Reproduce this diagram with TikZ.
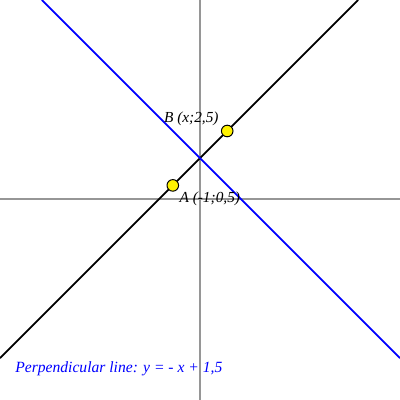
\documentclass[tikz,border=0pt]{standalone}
\usepackage{fontspec}
\setmainfont{Liberation Serif}
\begin{document}
\begin{tikzpicture}[x=0.68cm,y=0.68cm,
  axis/.style={draw={rgb,255:red,150;green,150;blue,150},line width=0.75pt},
  blackline/.style={draw=black,line width=1.3pt},
  blueline/.style={draw={rgb,255:red,0;green,0;blue,255},line width=1.3pt},
  pt/.style={circle,draw=black,line width=0.7pt,fill=yellow,minimum size=0.29cm,inner sep=0pt},
  lbl/.style={font=\itshape\fontsize{10.9}{12}\selectfont,text=black,inner sep=0pt},
  bluelbl/.style={font=\itshape\fontsize{11.1}{13}\selectfont,text={rgb,255:red,0;green,0;blue,255},inner sep=0pt}]
\useasboundingbox[fill=white] (-7.353,-7.39) rectangle (7.353,7.316);
% axes
\coordinate (xl) at (-7.353,0);
\coordinate (xr) at (7.353,0);
\coordinate (yb) at (0,-7.39);
\coordinate (yt) at (0,7.316);
\draw[axis] (xl) -- (xr);
\draw[axis] (yb) -- (yt);
% black line y = x + 1.5
\coordinate (k1) at (-7.353,-5.853);
\coordinate (k2) at (5.816,7.316);
\draw[blackline] (k1) -- (k2);
% blue line y = -x + 1.5
\coordinate (b1) at (-5.816,7.316);
\coordinate (b2) at (7.353,-5.853);
\draw[blueline] (b1) -- (b2);
% points
\node[pt] (A) at (-1,0.5) {};
\node[pt] (B) at (1,2.5) {};
\node[lbl,anchor=west] (Alab) at (-0.76,0.02) {A (-1;0,5)};
\node[lbl,anchor=west] (Blab) at (-1.33,2.93) {B (x;2,5)};
\node[bluelbl,anchor=west] (eq) at (-6.8,-6.23) {Perpendicular line: y = - x + 1,5};
\end{tikzpicture}
\end{document}
